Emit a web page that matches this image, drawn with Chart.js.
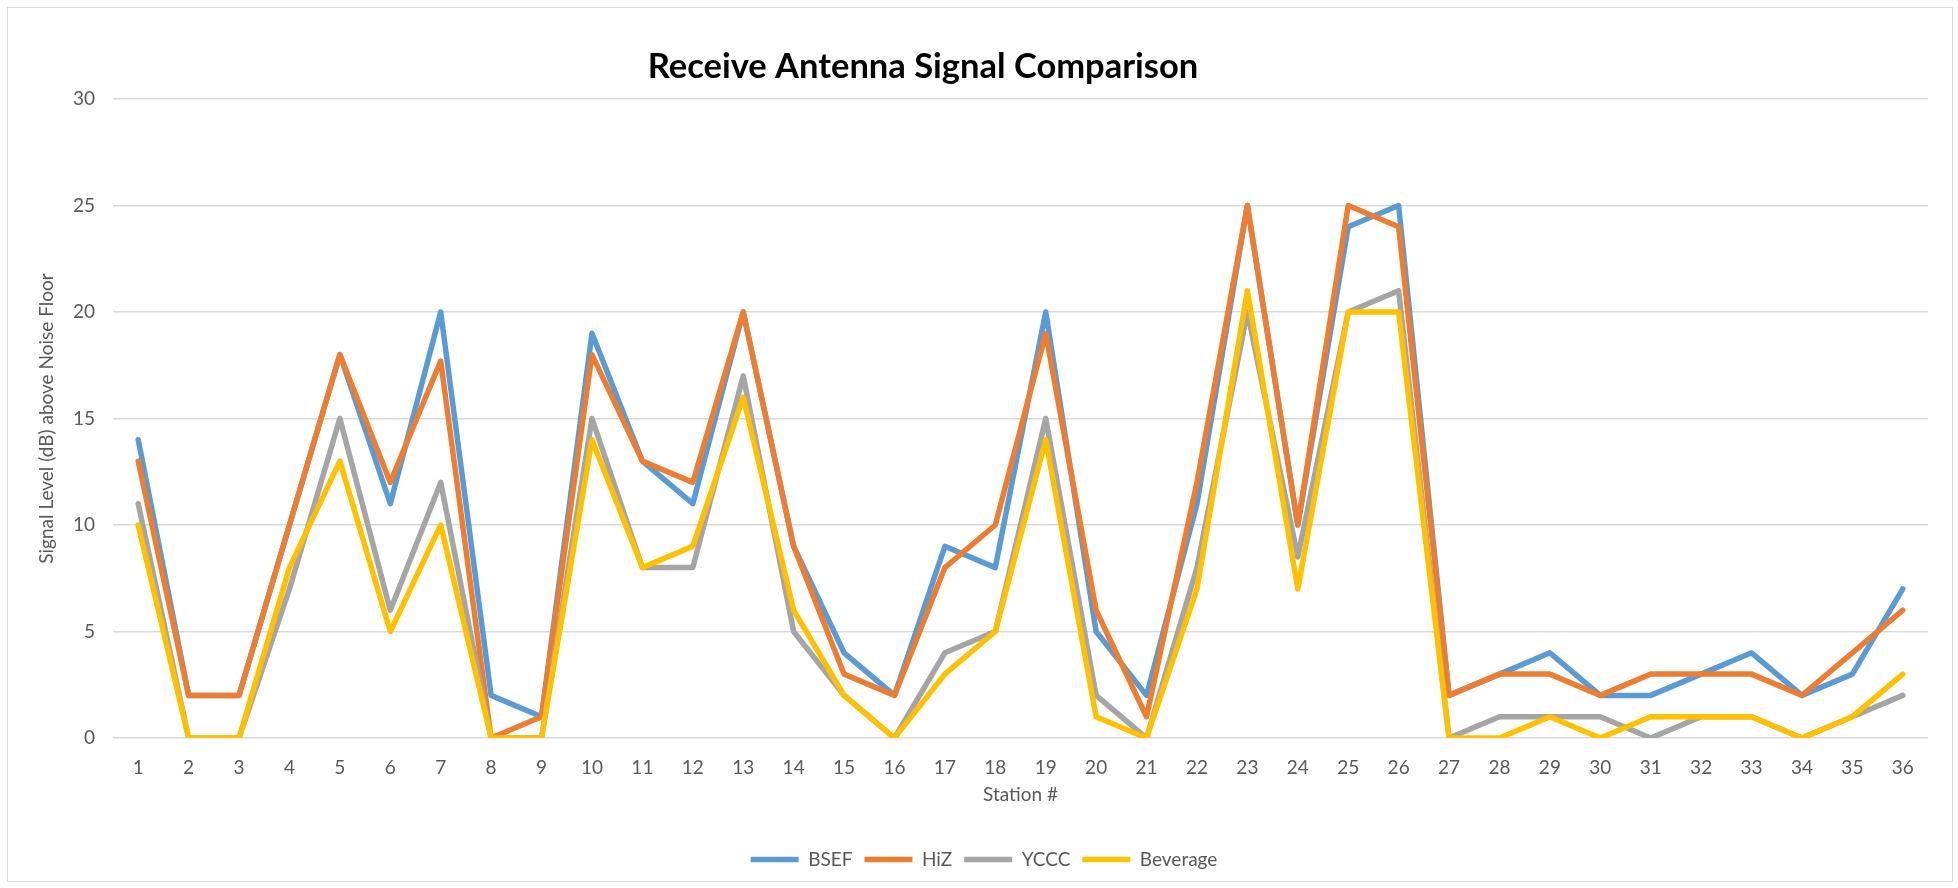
<!DOCTYPE html>
<html>
<head>
<meta charset="utf-8">
<title>Receive Antenna Signal Comparison</title>
<script src="https://cdn.jsdelivr.net/npm/chart.js@4/dist/chart.umd.min.js"></script>
<style>
  html, body { margin: 0; padding: 0; background: #ffffff; }
  #frame {
    position: absolute; left: 7px; top: 7px;
    width: 1944px; height: 873px;
    border: 1px solid #d9d9d9; background: #ffffff;
  }
  #c { display: block; }
</style>
</head>
<body>
<div id="frame"><canvas id="c"></canvas></div>
<script>
// Station numbers along the x axis
const stations = ['1','2','3','4','5','6','7','8','9','10','11','12','13','14','15','16','17','18',
                  '19','20','21','22','23','24','25','26','27','28','29','30','31','32','33','34','35','36'];

// Signal level (dB above noise floor) per antenna
const bsef     = [14, 2, 2, 10, 18, 11, 20, 2, 1, 19, 13, 11, 20, 9, 4, 2, 9, 8,
                  20, 5, 2, 11, 25, 10, 24, 25, 2, 3, 4, 2, 2, 3, 4, 2, 3, 7];
const hiz      = [13, 2, 2, 10, 18, 12, 17.7, 0, 1, 18, 13, 12, 20, 9, 3, 2, 8, 10,
                  19, 6, 1, 12, 25, 10, 25, 24, 2, 3, 3, 2, 3, 3, 3, 2, 4, 6];
const yccc     = [11, 0, 0, 7, 15, 6, 12, 0, 0, 15, 8, 8, 17, 5, 2, 0, 4, 5,
                  15, 2, 0, 8, 20, 8.5, 20, 21, 0, 1, 1, 1, 0, 1, 1, 0, 1, 2];
const beverage = [10, 0, 0, 8, 13, 5, 10, 0, 0, 14, 8, 9, 16, 6, 2, 0, 3, 5,
                  14, 1, 0, 7, 21, 7, 20, 20, 0, 0, 1, 0, 1, 1, 1, 0, 1, 3];

const seriesNames  = ['BSEF', 'HiZ', 'YCCC', 'Beverage'];
const seriesValues = [bsef, hiz, yccc, beverage];
const seriesColors = ['#5b9bd5', '#ed7d31', '#a5a5a5', '#ffc000'];

const FONT = 'Lato, "Open Sans", sans-serif';
const TEXT = '#595959';

// Chart heading, drawn centred over the plot
const headingPlugin = {
  id: 'heading',
  afterDraw(chart, args, opts) {
    const ctx = chart.ctx;
    ctx.save();
    ctx.font = 'bold ' + opts.size + 'px ' + FONT;
    ctx.fillStyle = opts.color;
    ctx.textAlign = 'center';
    ctx.textBaseline = 'middle';
    ctx.fillText(opts.text, opts.x, opts.y);
    ctx.restore();
  }
};

// Nudges the legend row sideways after layout
const legendShiftPlugin = {
  id: 'legendShift',
  afterLayout(chart, args, opts) {
    const lg = chart.legend;
    if (lg) { lg.left += opts.dx; lg.right += opts.dx; }
  }
};

const datasets = seriesNames.map((name, i) => ({
  label: name,
  data: seriesValues[i],
  borderColor: seriesColors[i],
  backgroundColor: seriesColors[i],
  borderWidth: 5.5,
  borderJoinStyle: 'round',
  borderCapStyle: 'round',
  pointRadius: 0,
  pointHoverRadius: 0,
  tension: 0,
  // later series are painted on top of earlier ones
  order: seriesNames.length - i
}));

new Chart(document.getElementById('c'), {
  type: 'line',
  data: { labels: stations, datasets },
  plugins: [headingPlugin, legendShiftPlugin],
  options: {
    responsive: true,
    maintainAspectRatio: false,
    animation: false,
    layout: { padding: { left: 0, right: 24, top: 91, bottom: 2 } },
    plugins: {
      heading: { text: 'Receive Antenna Signal Comparison', x: 915, y: 59, size: 34.5, color: '#000000' },
      legendShift: { dx: 16 },
      title: { display: false },
      tooltip: { enabled: false },
      legend: {
        position: 'bottom',
        labels: {
          font: { family: FONT, size: 19 },
          color: TEXT,
          usePointStyle: true,
          pointStyle: 'line',
          pointStyleWidth: 48,
          boxHeight: 19,
          padding: 12,
          sort: (a, b) => a.datasetIndex - b.datasetIndex
        }
      }
    },
    scales: {
      x: {
        offset: true,
        grid: { display: false },
        border: { display: false },
        ticks: { font: { family: FONT, size: 19 }, color: TEXT, padding: 10, maxRotation: 0, autoSkip: false },
        title: {
          display: true, text: 'Station #',
          font: { family: FONT, size: 19 }, color: TEXT,
          padding: { top: 0, bottom: 32 }
        },
        afterFit: (s) => { s.height = 100; }
      },
      y: {
        min: 0, max: 30,
        ticks: { stepSize: 5, font: { family: FONT, size: 19 }, color: TEXT, padding: 18 },
        grid: { color: '#d9d9d9', lineWidth: 1.5, drawTicks: false },
        border: { display: false },
        title: {
          display: true, text: 'Signal Level (dB) above Noise Floor',
          font: { family: FONT, size: 19 }, color: TEXT,
          padding: { top: 27, bottom: 0 }
        },
        afterFit: (s) => { s.width = 105; }
      }
    }
  }
});
</script>
</body>
</html>
